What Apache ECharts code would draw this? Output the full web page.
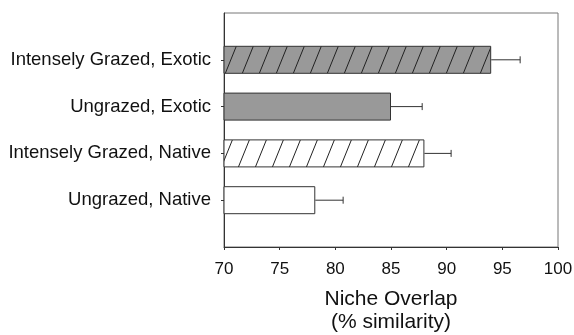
<!DOCTYPE html>
<html>
<head>
<meta charset="utf-8">
<script src="https://cdn.jsdelivr.net/npm/echarts@6/dist/echarts.min.js"></script>
<style>
  html, body { margin: 0; padding: 0; background: #fff; }
  #chart { width: 574px; height: 335px; }
</style>
</head>
<body>
<div id="chart"></div>
<script>
// Groups listed bottom to top
const groups = ['Ungrazed, Native', 'Intensely Grazed, Native', 'Ungrazed, Exotic', 'Intensely Grazed, Exotic'];
const overlap = [78.2, 88.0, 85.0, 94.0];
const overlapSE = [2.5, 2.4, 2.8, 2.6];
const xTicks = [70, 75, 80, 85, 90, 95, 100];

// Fill for each group: exotic = grey, native = white; grazed = hatched
const exotic = [false, false, true, true];
const grazed = [false, true, false, true];

function hatch(bg) {
  const w = 17, h = 42;
  const c = document.createElement('canvas');
  c.width = w; c.height = h;
  const ctx = c.getContext('2d');
  ctx.fillStyle = bg;
  ctx.fillRect(0, 0, w, h);
  ctx.strokeStyle = '#222';
  ctx.lineWidth = 1;
  for (const dx of [-w, 0, w]) {
    ctx.beginPath();
    ctx.moveTo(dx, h);
    ctx.lineTo(dx + w, 0);
    ctx.stroke();
  }
  return { image: c, repeat: 'repeat' };
}

// Empty slots above and below keep the bars off the frame edges
const yCats = [''].concat(groups, ['']);
const barData = ['-'].concat(groups.map((g, i) => {
  const bg = exotic[i] ? '#999999' : '#ffffff';
  return {
    value: overlap[i],
    itemStyle: { color: grazed[i] ? hatch(bg) : bg, borderColor: '#333', borderWidth: 1 }
  };
}), ['-']);
const errData = groups.map((g, i) => [overlap[i], i + 1, overlapSE[i]]);

const chart = echarts.init(document.getElementById('chart'), null, { renderer: 'canvas' });
chart.setOption({
  animation: false,
  grid: {
    left: 224, right: 16, top: 13, bottom: 88,
    outerBoundsMode: 'none',
    containLabel: false,
    show: true, borderColor: '#777', borderWidth: 1
  },
  xAxis: {
    type: 'value',
    min: xTicks[0],
    max: xTicks[xTicks.length - 1],
    interval: 5,
    splitLine: { show: false },
    axisLine: { show: true, lineStyle: { color: '#333', width: 1 } },
    axisTick: { show: true, length: 3, lineStyle: { color: '#333' } },
    axisLabel: { color: '#111', fontSize: 17, fontFamily: 'Liberation Sans, Arial, sans-serif', margin: 14 },
    name: 'Niche Overlap\n(% similarity)',
    nameLocation: 'middle',
    nameGap: 41,
    nameTextStyle: { color: '#111', fontSize: 21, lineHeight: 23, fontFamily: 'Liberation Sans, Arial, sans-serif' }
  },
  yAxis: {
    type: 'category',
    data: yCats,
    boundaryGap: false,
    axisLine: { show: true, lineStyle: { color: '#333', width: 1 } },
    axisTick: { show: true, length: 3, interval: (i) => i > 0 && i < yCats.length - 1, lineStyle: { color: '#333' } },
    axisLabel: { color: '#111', fontSize: 18.5, fontFamily: 'Liberation Sans, Arial, sans-serif', margin: 13, interval: 0 },
    splitLine: { show: false }
  },
  series: [
    {
      type: 'bar',
      data: barData,
      barWidth: 28,
      z: 2
    },
    {
      type: 'custom',
      data: errData,
      z: 3,
      renderItem: (params, api) => {
        const m = api.value(0), idx = api.value(1), e = api.value(2);
        const p0 = api.coord([m, idx]);
        const p1 = api.coord([m + e, idx]);
        const style = { stroke: '#333', lineWidth: 1 };
        return {
          type: 'group',
          children: [
            { type: 'line', shape: { x1: p0[0], y1: p0[1], x2: p1[0], y2: p1[1] }, style },
            { type: 'line', shape: { x1: p1[0], y1: p1[1] - 3.5, x2: p1[0], y2: p1[1] + 3.5 }, style }
          ]
        };
      }
    }
  ]
});
</script>
</body>
</html>
